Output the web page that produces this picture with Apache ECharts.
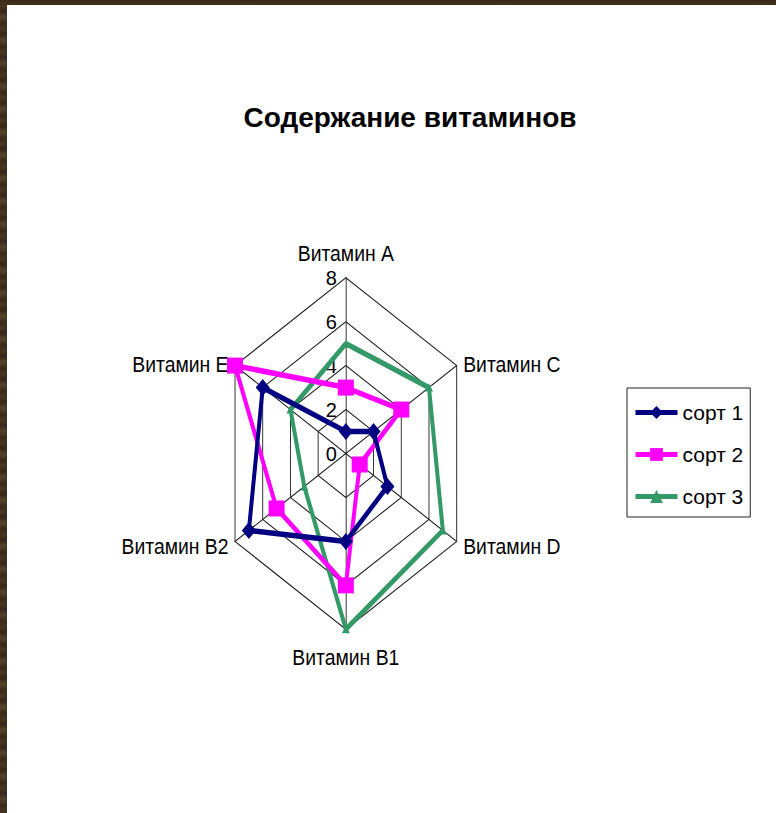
<!DOCTYPE html>
<html><head><meta charset="utf-8">
<script src="https://cdn.jsdelivr.net/npm/echarts@6/dist/echarts.min.js"></script>
<style>
html,body{margin:0;padding:0;width:776px;height:813px;overflow:hidden;
  background:repeating-linear-gradient(180deg,#3a2818 0px,#4a3522 6px,#36261a 11px,#55402b 17px,#3d2b1c 23px);}
#page{position:absolute;left:7px;top:5px;right:0;bottom:0;background:#fff;}
#frame{position:absolute;left:0;top:0;width:776px;height:813px;}
#plot{position:absolute;left:0;top:0;width:1066px;height:813px;transform-origin:0 0;transform:scaleX(0.728);}
</style></head><body>
<div id="page"></div>
<div id="frame"></div>
<div id="plot"></div>
<script>
// ---- data ----
const categories = ['Витамин A', 'Витамин C', 'Витамин D', 'Витамин B1', 'Витамин B2', 'Витамин E'];
const seriesNames = ['сорт 1', 'сорт 2', 'сорт 3'];
const sort1 = [1, 2, 3, 4, 7, 6];
const sort2 = [3, 4, 1, 6, 5, 8];
const sort3 = [5, 6, 7, 8, 3, 4];
const tickValues = [0, 2, 4, 6, 8];
const chartTitle = 'Содержание витаминов';

// ---- layout / style ----
const SX = 0.728;            // horizontal stretch of the original plot area
const CX = 345.85, CY = 453.5, R = 175.8;
const FONT = '"Liberation Sans", Arial, sans-serif';
const colors = ['#000080', '#ff00ff', '#339966'];
const symbols = ['diamond', 'rect', 'triangle'];
const symSizes = [[14, 17], [16, 16], [8, 8]];

const axisMin = tickValues[0], axisMax = tickValues[tickValues.length - 1];
const axisStep = tickValues[1] - tickValues[0];
const values = [sort1, sort2, sort3];
// ECharts places radar indicators counter-clockwise; the source goes clockwise
const order = categories.map((c, i) => (categories.length - i) % categories.length);

// ---------- plot (stretched radar) ----------
const plot = echarts.init(document.getElementById('plot'), null, {renderer: 'svg'});
plot.setOption({
  animation: false,
  radar: {
    center: [CX / SX, CY],
    radius: R,
    startAngle: 90,
    shape: 'polygon',
    splitNumber: (axisMax - axisMin) / axisStep,
    indicator: order.map(i => ({name: categories[i], min: axisMin, max: axisMax})),
    axisName: {show: false},
    axisLine: {lineStyle: {color: '#1a1a1a', width: 1.2}},
    splitLine: {lineStyle: {color: '#1a1a1a', width: 1.2}},
    splitArea: {show: false},
    axisTick: {show: false},
    axisLabel: {show: false}
  },
  series: values.map((v, k) => ({
    type: 'radar',
    name: seriesNames[k],
    symbol: symbols[k],
    symbolSize: [symSizes[k][0] / SX, symSizes[k][1]],
    lineStyle: {color: colors[k], width: 5.5},
    itemStyle: {color: colors[k]},
    z: 2 + (2 - k),
    data: [{name: seriesNames[k], value: order.map(i => v[i])}]
  }))
});

// ---------- frame (title, legend, axis names, tick labels) ----------
const frame = echarts.init(document.getElementById('frame'), null, {renderer: 'svg'});
const n = categories.length;
const nameEls = categories.map((c, i) => {
  const th = (90 - 360 * i / n) * Math.PI / 180;
  const cs = Math.cos(th), sn = Math.sin(th);
  const vx = CX + R * cs * SX, vy = CY - R * sn;
  let x, y, align;
  if (Math.abs(cs) < 0.01) { x = vx; y = vy - (sn > 0 ? 25 : -28); align = 'center'; }
  else { align = cs > 0 ? 'left' : 'right'; x = vx + (cs > 0 ? 6.5 : -6.5); y = vy + (sn > 0 ? -2 : 4.5); }
  return {
    type: 'text', x: x, y: y, scaleX: 0.88, z: 1,
    style: {text: c, fill: '#000', fontSize: 22, fontFamily: FONT,
      textAlign: align, align: align, textVerticalAlign: 'middle', verticalAlign: 'middle'}
  };
});
frame.setOption({
  animation: false,
  title: {
    text: chartTitle, left: 410, top: 103, padding: 0, textAlign: 'center',
    textStyle: {fontSize: 28, fontWeight: 'bold', fontFamily: FONT, color: '#000'}
  },
  legend: {
    orient: 'vertical', left: 627, top: 388,
    padding: [14, 7, 10, 6], itemGap: 21, itemWidth: 42, itemHeight: 16,
    borderColor: '#222', borderWidth: 1,
    lineStyle: {width: 5},
    textStyle: {fontSize: 21, fontFamily: FONT, color: '#000'},
    data: seriesNames
  },
  grid: {left: CX, top: CY - R, width: 1, height: R, show: false},
  xAxis: {type: 'value', show: false},
  yAxis: {
    type: 'value', min: axisMin, max: axisMax, interval: axisStep,
    axisLine: {show: false}, axisTick: {show: false}, splitLine: {show: false},
    axisLabel: {fontSize: 20, fontFamily: FONT, color: '#000', margin: 9, padding: [4, 0, 0, 0]}
  },
  graphic: nameEls,
  series: seriesNames.map((s, k) => ({
    type: 'line', name: s, data: [], symbol: symbols[k],
    lineStyle: {color: colors[k], width: 5}, itemStyle: {color: colors[k]}
  }))
});
</script>
</body></html>
